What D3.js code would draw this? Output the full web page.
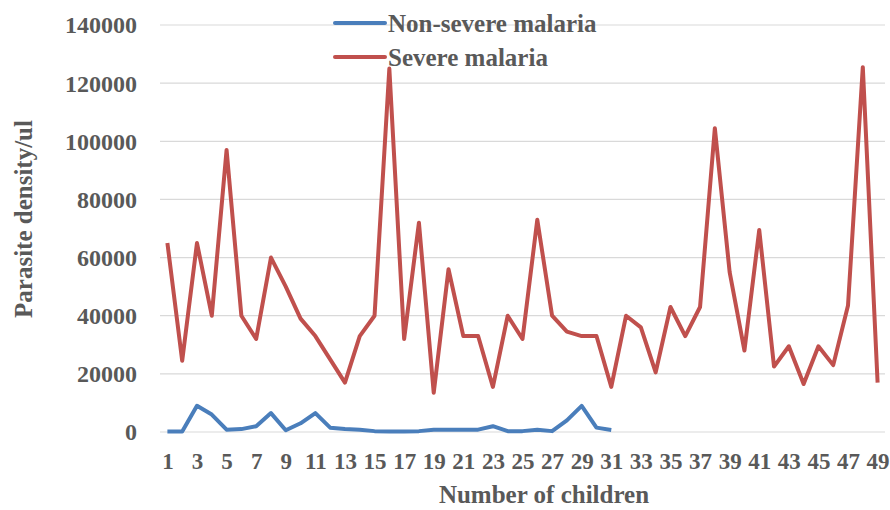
<!DOCTYPE html>
<html>
<head>
<meta charset="utf-8">
<script src="https://cdn.jsdelivr.net/npm/d3@7"></script>
<style>
  html, body { margin: 0; padding: 0; background: #fff; }
  text { font-family: "Liberation Serif", "Times New Roman", serif; font-weight: bold; fill: #595959; }
</style>
</head>
<body>
<svg id="chart" width="890" height="510"></svg>
<script>
// Data
const children = d3.range(1, 50); // 1..49
const severe = [65000, 24500, 65000, 40000, 97000, 40000, 32000, 60000, 50000, 39000,
  33000, 25000, 17000, 33000, 40000, 125000, 32000, 72000, 13500, 56000,
  33000, 33000, 15500, 40000, 32000, 73000, 40000, 34500, 33000, 33000,
  15500, 40000, 36000, 20500, 43000, 33000, 43000, 104500, 55000, 28000,
  69500, 22500, 29500, 16500, 29500, 23000, 43500, 125500, 17000];
const nonSevere = [200, 200, 9000, 6000, 800, 1000, 2000, 6500, 600, 3000,
  6500, 1500, 1000, 800, 300, 200, 200, 300, 800, 800,
  800, 800, 2000, 300, 300, 800, 300, 4000, 9000, 1500, 700];
const yTicks = [0, 20000, 40000, 60000, 80000, 100000, 120000, 140000];
const xTickLabels = children.filter(d => d % 2 === 1);
const seriesNames = ["Non-severe malaria", "Severe malaria"];
const colors = ["#4a7ebb", "#c0504d"];

(function () {
const svg = d3.select("#chart");
const mLeft = 160, mRight = 885, mTop = 25, mBottom = 432;

const x = d3.scalePoint().domain(children).range([mLeft, mRight]).padding(0.5);
const y = d3.scaleLinear().domain([0, 140000]).range([mBottom, mTop]);

// gridlines
svg.append("g").selectAll("line").data(yTicks).join("line")
  .attr("x1", mLeft).attr("x2", mRight)
  .attr("y1", d => y(d)).attr("y2", d => y(d))
  .attr("stroke", "#d9d9d9").attr("stroke-width", 1.2);

// y axis labels
const yAxis = d3.axisLeft(y).tickValues(yTicks).tickSize(0).tickPadding(0).tickFormat(d3.format("d"));
const gy = svg.append("g").attr("transform", `translate(137,0)`).call(yAxis);
gy.select(".domain").remove();
gy.selectAll("text").attr("font-size", 24).attr("dy", "0.33em")
  .style("font-family", "'Liberation Serif', serif").style("font-weight", "bold").attr("fill", "#595959");

// x axis labels
const xAxis = d3.axisBottom(x).tickValues(xTickLabels).tickSize(0).tickPadding(0);
const gx = svg.append("g").attr("transform", `translate(0,${mBottom})`).call(xAxis);
gx.select(".domain").remove();
gx.selectAll("text").attr("font-size", 23).attr("y", 37).attr("dy", 0)
  .style("font-family", "'Liberation Serif', serif").style("font-weight", "bold").attr("fill", "#595959");

// lines
const line = d3.line().x((d, i) => x(children[i])).y(d => y(d));
svg.append("path").datum(nonSevere).attr("d", line)
  .attr("fill", "none").attr("stroke", colors[0]).attr("stroke-width", 4).attr("stroke-linejoin", "round");
svg.append("path").datum(severe).attr("d", line)
  .attr("fill", "none").attr("stroke", colors[1]).attr("stroke-width", 4).attr("stroke-linejoin", "round");

// axis titles
svg.append("text").attr("x", 544).attr("y", 503).attr("text-anchor", "middle")
  .attr("font-size", 25).text("Number of children");
svg.append("text").attr("transform", "translate(32,219) rotate(-90)").attr("text-anchor", "middle")
  .attr("font-size", 25).text("Parasite density/ul");

// legend
const legendY = [23, 57];
seriesNames.forEach((name, i) => {
  svg.append("line").attr("x1", 335).attr("x2", 385).attr("y1", legendY[i]).attr("y2", legendY[i])
    .attr("stroke", colors[i]).attr("stroke-width", 4).attr("stroke-linecap", "round");
  svg.append("text").attr("x", 388).attr("y", legendY[i] + 8.5).attr("font-size", 25).text(name);
});
})();
</script>
</body>
</html>
